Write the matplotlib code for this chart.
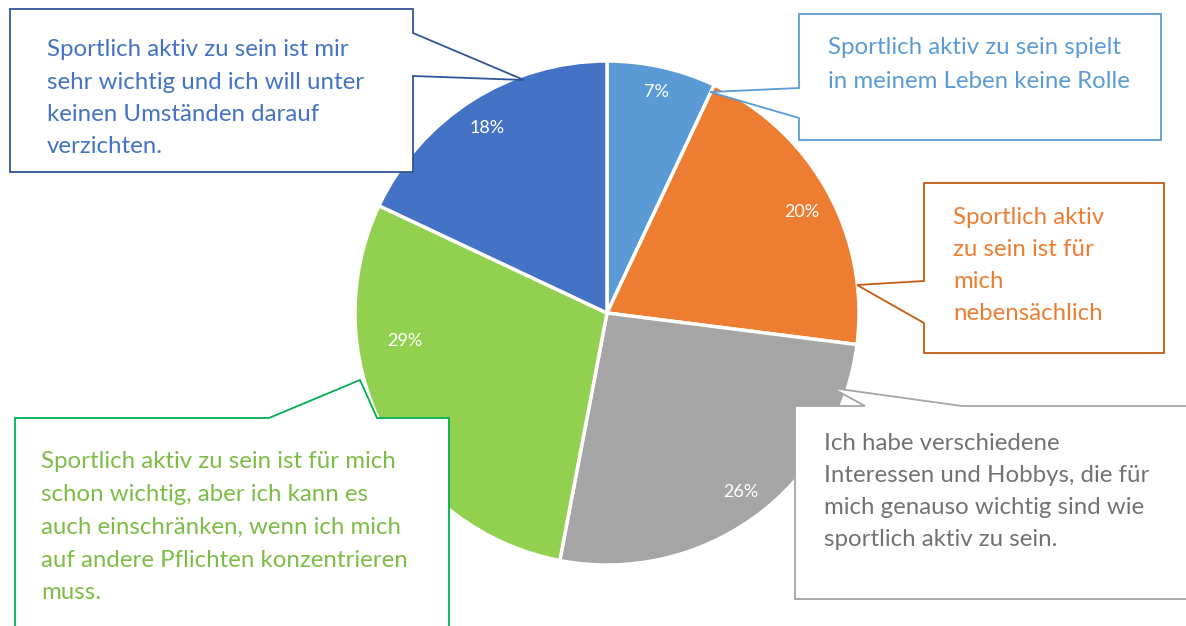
import matplotlib
matplotlib.use("Agg")
import matplotlib.pyplot as plt
from matplotlib.patches import Polygon

# ---- data ----
values = [7, 20, 26, 29, 18]
pct_labels = ["7%", "20%", "26%", "29%", "18%"]
colors = ["#5B9BD5", "#ED7D31", "#A5A5A5", "#92D050", "#4472C4"]
categories = [
    ["Sportlich aktiv zu sein spielt", "in meinem Leben keine Rolle"],
    ["Sportlich aktiv", "zu sein ist für", "mich", "nebensächlich"],
    ["Ich habe verschiedene", "Interessen und Hobbys, die für",
     "mich genauso wichtig sind wie", "sportlich aktiv zu sein."],
    ["Sportlich aktiv zu sein ist für mich", "schon wichtig, aber ich kann es",
     "auch einschränken, wenn ich mich", "auf andere Pflichten konzentrieren",
     "muss."],
    ["Sportlich aktiv zu sein ist mir", "sehr wichtig und ich will unter",
     "keinen Umständen darauf", "verzichten."],
]
text_colors = ["#5B9BD5", "#ED7D31", "#767171", "#7DBD45", "#4472C4"]
border_colors = ["#5B9BD5", "#C55A11", "#A5A5A5", "#00B050", "#2F5597"]

W, H = 1186, 626
plt.rcParams["font.family"] = ["Lato", "DejaVu Sans"]

fig = plt.figure(figsize=(W / 100, H / 100), dpi=100)
ax = fig.add_axes([0, 0, 1, 1])


def Y(y):
    return H - y


# pie
cx, cy, R = 607, 313, 252
wedges, _ = ax.pie(values, colors=colors, startangle=90, counterclock=False,
                   center=(cx, Y(cy)), radius=R,
                   wedgeprops=dict(edgecolor="white", linewidth=2.5))

# percentage labels (pixel positions)
pct_pos = [(656, 92), (802, 212), (741, 492), (405, 341), (487, 128)]
for lab, (px, py) in zip(pct_labels, pct_pos):
    ax.text(px, Y(py), lab, color="white", fontsize=13, ha="center",
            va="center", zorder=5)

# callouts: outline polygons in pixel coordinates
callouts = [
    [(799, 14), (1161, 14), (1161, 140), (799, 140), (799, 118), (710, 92), (799, 88)],
    [(924, 183), (1164, 183), (1164, 353), (924, 353), (924, 323), (857, 285), (924, 281)],
    [(795, 406), (865, 406), (832, 388), (962, 406), (1200, 406), (1200, 599), (795, 599)],
    [(15, 418), (269, 418), (360, 380), (377, 418), (449, 418), (449, 640), (15, 640)],
    [(10, 9), (413, 9), (413, 33), (524, 80), (413, 76), (413, 172), (10, 172)],
]
text_start = [(828, 48), (953, 217), (824, 443), (41, 462), (47, 50)]
spacing = [33, 32.3, 32.3, 32.7, 32.3]

for i in range(5):
    pts = [(x, Y(y)) for x, y in callouts[i]]
    ax.add_patch(Polygon(pts, closed=True, facecolor="white",
                         edgecolor=border_colors[i], linewidth=1.3, zorder=3,
                         joinstyle="miter"))
    x0, y0 = text_start[i]
    for j, line in enumerate(categories[i]):
        ax.text(x0, Y(y0 + j * spacing[i]), line, color=text_colors[i],
                fontsize=17.3, ha="left", va="center", zorder=6)

ax.set_xlim(0, W)
ax.set_ylim(0, H)
ax.set_aspect("equal")
ax.axis("off")
fig.savefig("out.png", dpi=100, facecolor="white")
